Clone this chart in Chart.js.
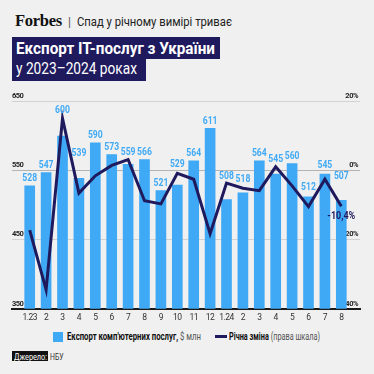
<!DOCTYPE html>
<html>
<head>
<meta charset="utf-8">
<script src="https://cdn.jsdelivr.net/npm/chart.js@4"></script>
<style>
  html, body { margin:0; padding:0; }
  body { width:374px; height:374px; background:#f0f0f0; position:relative; overflow:hidden; font-family: Roboto, 'Liberation Sans', sans-serif; }
  .t { position:absolute; white-space:nowrap; display:inline-block; transform-origin:0 0; line-height:1; }
  .box { position:absolute; background:#1f1a5e; }
  #wrap { position:absolute; left:0; top:88px; width:374px; height:240px; }
</style>
</head>
<body>
<div class="t" id="forbes" data-w="47" style="left:15px; top:13px; font-family:'Liberation Serif','DejaVu Serif',serif; font-weight:bold; font-size:16.5px; color:#111; letter-spacing:-0.3px;">Forbes</div>
<div class="t" style="left:68px; top:16px; font-size:12px; color:#555;">|</div>
<div class="t" id="sub" data-w="155" style="left:77px; top:15.8px; font-size:12.5px; color:#222;">Спад у річному вимірі триває</div>

<div class="box" style="left:12px; top:37px; width:208px; height:22px;"></div>
<div class="box" style="left:12px; top:58px; width:134px; height:23px;"></div>
<div class="t" data-w="199" style="left:16px; top:41px; font-size:16.5px; font-weight:bold; color:#fff;">Експорт IT-послуг з України</div>
<div class="t" data-w="121" style="left:16px; top:61px; font-size:16.5px; color:#fff;">у 2023–2024 роках</div>

<div id="wrap"><canvas id="c" width="374" height="240"></canvas></div>

<div class="box" style="left:53px; top:332px; width:10px; height:9.5px; background:#3fa9f5;"></div>
<div class="t" data-w="134" style="left:67px; top:332px; font-size:10px; color:#111;"><b>Експорт комп'ютерних послуг,</b> <span style="color:#555">$ млн</span></div>
<div class="box" style="left:215px; top:335px; width:12px; height:3px;"></div>
<div class="t" data-w="91" style="left:229px; top:332px; font-size:10px; color:#111;"><b>Річна зміна</b> <span style="color:#555">(права шкала)</span></div>

<div class="box" style="left:12px; top:351px; width:36px; height:10px; background:#111;"></div>
<div class="t" data-w="33" style="left:13.5px; top:351.5px; font-size:9.5px; color:#fff;">Джерело:</div>
<div class="t" data-w="13.5" style="left:50px; top:351.5px; font-size:9.5px; color:#333;">НБУ</div>

<script>
// ---- data ----
const xLabels = ['1.23','2','3','4','5','6','7','8','9','10','11','12','1.24','2','3','4','5','6','7','8'];
const exportValues = [528, 547, 600, 539, 590, 573, 559, 566, 521, 529, 564, 611, 508, 518, 564, 545, 560, 512, 545, 507];
const yearlyChange = [-17.3, -34.5, 15.0, -6.6, -1.6, 1.4, 3.1, -8.8, -9.7, -0.9, -2.6, -18.3, -3.7, -5.2, -5.9, 1.0, -4.5, -10.5, -2.6, -10.4];
const leftTicks = [350, 450, 550, 650];
const rightTicks = [-40, -20, 0, 20];
const lastChangeLabel = '-10,4%';

// ---- layout styling (not data) ----
const labelLift = [7,7,25,25,7,7,12,7,7,20,7,7,23,13,7,14,7,9,8,24];
const BLUE = '#3fa9f5';
const NAVY = '#1f1a5e';

// fit HTML texts to their widths
document.querySelectorAll('.t[data-w]').forEach(el => {
  const w = parseFloat(el.dataset.w);
  const nw = el.getBoundingClientRect().width;
  el.style.transform = 'scaleX(' + (w / nw) + ')';
});

function condensedText(ctx, text, x, y, sx) {
  ctx.save();
  ctx.translate(x, y);
  ctx.scale(sx, 1);
  ctx.fillText(text, 0, 0);
  ctx.restore();
}

function noPad(s) {
  s.paddingLeft = 0; s.paddingRight = 0; s.paddingTop = 0; s.paddingBottom = 0;
}

const labelsPlugin = {
  id: 'labelsPlugin',
  beforeDraw(chart) { chart.ctx.letterSpacing = '-0.5px'; },
  beforeDatasetsDraw(chart) { chart.ctx.letterSpacing = '0px'; },
  afterDatasetsDraw(chart) {
    const ctx = chart.ctx;
    const barMeta = chart.getDatasetMeta(0);
    ctx.save();
    ctx.fillStyle = BLUE;
    ctx.font = 'bold 10.5px Roboto';
    ctx.textAlign = 'center';
    ctx.textBaseline = 'middle';
    barMeta.data.forEach((bar, i) => {
      condensedText(ctx, String(exportValues[i]), bar.x, bar.y - labelLift[i], 0.82);
    });
    const lineMeta = chart.getDatasetMeta(1);
    const last = lineMeta.data[lineMeta.data.length - 1];
    ctx.fillStyle = NAVY;
    ctx.font = 'bold 11px Roboto';
    condensedText(ctx, lastChangeLabel, last.x, last.y + 10, 0.82);
    ctx.restore();
  }
};

new Chart(document.getElementById('c'), {
  data: {
    datasets: [
      {
        type: 'bar',
        label: 'Експорт',
        data: exportValues.map((v, i) => ({ x: i, y: v })),
        backgroundColor: BLUE,
        borderWidth: 0,
        barPercentage: 0.65,
        categoryPercentage: 1,
        yAxisID: 'y',
        order: 1
      },
      {
        type: 'line',
        label: 'Річна зміна',
        data: yearlyChange.map((v, i) => ({ x: i, y: v })),
        borderColor: NAVY,
        borderWidth: 3,
        pointRadius: 0,
        tension: 0,
        fill: false,
        yAxisID: 'y1',
        order: 0
      }
    ]
  },
  options: {
    responsive: false,
    animation: false,
    layout: { padding: { top: 13, left: 12, right: 14, bottom: 1 } },
    plugins: { legend: { display: false }, tooltip: { enabled: false } },
    scales: {
      x: {
        type: 'linear',
        offset: false,
        min: -1.08,
        max: 20.14,
        grid: { display: false, drawTicks: false, offset: false },
        border: { display: true, color: '#1a1a1a', width: 2 },
        afterBuildTicks: s => { s.ticks = xLabels.map((_, i) => ({ value: i })); },
        afterFit: noPad,
        ticks: {
          autoSkip: false, maxRotation: 0, padding: 4,
          color: '#333', font: { family: 'Roboto', size: 8.5 },
          callback: v => xLabels[v] ?? ''
        }
      },
      y: {
        position: 'left',
        min: 350, max: 650,
        afterBuildTicks: s => { s.ticks = leftTicks.map(v => ({ value: v })); },
        afterFit: s => { noPad(s); s.width = 0; },
        grid: {
          drawTicks: false,
          color: c => c.tick.value === 550 ? '#b4b4b4' : (c.tick.value === 350 ? 'rgba(0,0,0,0)' : '#d2d2d2'),
          lineWidth: 1
        },
        border: { display: false },
        ticks: { mirror: true, padding: 0, labelOffset: -5, color: '#222', font: { family: 'Roboto', size: 7.5, weight: 'bold' } }
      },
      y1: {
        position: 'right',
        min: -40, max: 20,
        afterBuildTicks: s => { s.ticks = rightTicks.map(v => ({ value: v })); },
        afterFit: s => { noPad(s); s.width = 0; },
        grid: { display: false, drawTicks: false },
        border: { display: false },
        ticks: { mirror: true, padding: -2, labelOffset: -5, color: '#222', font: { family: 'Roboto', size: 7.5, weight: 'bold' }, callback: v => v + '%' }
      }
    }
  },
  plugins: [labelsPlugin]
});
</script>
</body>
</html>
